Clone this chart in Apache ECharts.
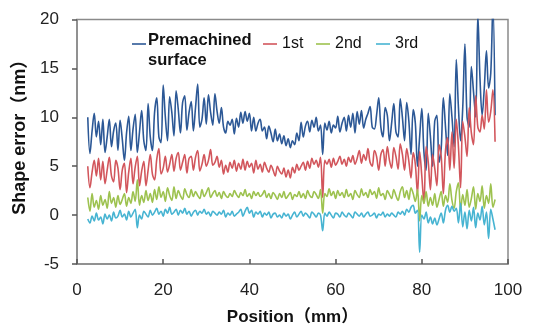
<!DOCTYPE html>
<html>
<head>
<meta charset="utf-8">
<style>html,body{margin:0;padding:0;background:#fff;}#chart{width:547px;height:331px;}</style>
<script src="https://cdn.jsdelivr.net/npm/echarts@6/dist/echarts.min.js"></script>
</head>
<body>
<div id="chart"></div>
<script>
// Sampling grid of the profiles (mm)
const xStart = 2.5;
const xStep = 0.5;

const seriesNames = ['Premachined surface', '1st', '2nd', '3rd'];
const xTicks = [0, 20, 40, 60, 80, 100];
const yTicks = [-5, 0, 5, 10, 15, 20];

// Shape error (nm), one value per sample from 2.5 mm to 97 mm
const premachined = [
  10.0, 6.3, 8.6, 10.4, 8.0, 9.6, 7.2, 9.8, 6.4, 8.0,
  9.8, 7.0, 8.6, 9.4, 6.6, 9.7, 7.8, 5.6, 8.4, 10.1,
  6.6, 8.8, 10.3, 6.4, 8.5, 10.7, 7.6, 6.6, 11.4, 8.0,
  6.6, 10.5, 12.0, 8.0, 7.4, 13.3, 10.0, 7.6, 12.1, 10.5,
  8.1, 12.7, 10.8, 8.4, 11.5, 12.2, 8.7, 10.5, 11.6, 8.6,
  11.0, 13.4, 9.0, 9.8, 12.0, 9.3, 12.3, 10.5, 9.2, 12.4,
  10.6, 9.4, 11.0, 9.0, 8.4, 9.6, 9.2, 9.8, 8.3, 9.9,
  9.0, 10.5, 9.4, 10.6, 9.6, 10.4, 8.6, 10.0, 8.6, 9.4,
  9.8, 8.6, 9.0, 7.8, 9.1, 8.4, 7.5, 8.8, 7.6, 8.3,
  7.3, 8.1, 7.1, 7.8, 6.9, 7.6, 7.2, 8.4, 7.6, 9.5,
  8.0, 9.1, 9.6, 8.5, 9.7, 9.0, 10.0, 8.6, 9.2, 6.2,
  9.4, 8.7, 9.6, 8.4, 9.2, 8.9, 10.1, 8.5, 9.4, 10.0,
  8.6, 10.2, 9.0, 10.4, 8.4, 10.6, 9.3, 10.7, 8.9, 9.8,
  10.4, 11.1, 9.0, 8.8, 10.2, 12.0, 9.0, 8.0, 11.0, 10.2,
  7.6, 9.4, 11.4, 8.5, 8.0, 11.9, 10.0, 7.6, 11.5, 9.6,
  6.2, 10.8, 9.4, 5.0, 8.0, 10.9, 6.4, 4.6, 10.4, 8.0,
  5.0, 9.6, 10.2, 5.4, 6.8, 12.0, 9.0, 6.1, 12.4, 10.0,
  7.0, 15.9, 11.0, 7.6, 11.0, 17.5, 10.0, 9.0, 15.2, 12.6,
  10.0, 20.5, 14.0, 10.2, 13.0, 16.8, 13.0, 14.5, 21.5, 10.2
];
const first = [
  5.0, 2.8, 4.4, 5.6, 4.0, 5.8, 3.6, 5.5, 3.2, 4.6,
  5.9, 4.0, 3.4, 5.6, 4.8, 2.6, 4.6, 5.3, 2.3, 4.4,
  5.8, 3.2, 4.9, 6.0, 3.0, 4.5, 5.5, 3.0, 4.6, 6.2,
  4.2, 3.6, 5.7, 6.8, 4.2, 4.8, 6.0, 4.4, 5.2, 6.2,
  4.5, 5.8, 6.4, 4.6, 5.4, 6.2, 4.3, 5.8, 6.0, 4.6,
  5.9, 6.6, 4.5, 5.2, 6.2, 5.0, 5.6, 6.7, 5.1, 5.4,
  6.0, 4.9, 5.6, 4.2, 5.1, 4.4, 5.4, 4.8, 5.6, 4.5,
  5.3, 4.7, 5.7, 4.6, 5.5, 4.9, 5.3, 4.3, 5.6, 4.7,
  5.2, 4.4, 5.4, 4.8, 4.4, 5.1, 4.6, 4.0, 5.0, 4.5,
  4.2, 4.8, 3.9, 4.6, 3.8, 4.9, 4.3, 5.2, 4.6, 5.0,
  5.4, 4.6, 5.5, 4.8, 5.8, 5.2, 5.6, 4.9, 5.9, 1.8,
  5.6, 5.2, 5.7, 4.9, 5.8, 5.1, 5.5, 6.0, 5.2, 5.7,
  5.0, 5.9, 5.4, 6.1, 5.2, 5.8, 6.6, 5.3, 6.2, 5.6,
  6.8, 5.4, 5.0, 6.6, 6.0, 4.6, 6.2, 6.7, 5.0, 7.0,
  5.6, 4.8, 6.9, 6.0, 4.7, 7.3, 6.2, 4.6, 6.8, 5.5,
  3.8, 6.4, 5.2, 2.2, 6.5, 4.0, 1.2, 7.0, 5.4, 2.6,
  6.2, 4.8, 3.0, 7.2, 6.0, 2.2, 6.6, 7.9, 4.6, 8.5,
  4.8, 9.8, 7.0, 2.8, 9.6, 8.0, 6.0, 11.0, 8.4, 7.2,
  12.2, 9.0, 8.5, 10.2, 8.8, 12.8, 9.5, 10.6, 12.8, 7.5
];
const second = [
  1.8, 0.4, 2.2, 0.8, 1.5, 0.6, 2.0, 1.0, 1.6, 0.7,
  2.4, 1.2, 1.8, 0.8, 2.0, 1.1, 1.6, 2.2, 0.9, 1.8,
  1.2, 2.4, 1.4, 3.6, 1.0, 2.0, 1.3, 2.5, 1.5, 2.2,
  1.3, 2.6, 1.6, 2.9, 1.8, 2.4, 1.4, 2.8, 2.0, 1.5,
  2.9, 1.7, 2.5, 2.0, 1.6, 2.7, 2.1, 1.8, 2.6, 1.9,
  2.4, 2.0, 1.7, 2.6, 1.9, 2.3, 2.8, 1.8, 2.2, 2.5,
  1.9, 2.3, 1.7, 2.4, 2.0, 1.8, 2.2, 1.9, 2.5, 2.1,
  1.8, 2.3, 2.0, 2.6, 1.9, 2.2, 1.7, 2.4, 2.0, 2.3,
  1.9, 2.1, 2.5, 1.8, 2.2, 1.7, 2.3, 2.0, 1.6, 2.2,
  1.8, 2.4, 1.7, 2.0, 2.3, 1.6, 2.1, 1.9, 2.4, 1.8,
  2.2, 1.7, 2.5, 2.0, 1.8, 2.4, 2.1, 1.7, 2.6, 0.2,
  2.2, 1.9, 2.7, 2.0, 2.4, 1.7, 2.5, 2.0, 2.3, 1.8,
  2.6, 1.9, 2.2, 1.6, 2.5, 2.1, 1.8, 2.7, 2.0, 2.3,
  1.8, 2.6, 2.1, 2.4, 1.7, 2.8, 2.0, 2.2, 1.6, 2.5,
  2.1, 1.7, 2.6, 2.0, 1.5, 2.4, 2.9, 1.8, 2.5, 1.6,
  2.8, 2.2, 1.4, 2.6, -0.6, 2.0, 1.2, 2.4, 0.9, 1.8,
  1.0, 2.2, 0.8, 1.6, 2.4, 0.9, 2.0, 1.3, 3.2, 1.5,
  0.7, 2.4, 3.3, 0.5, 2.1, 1.0, 2.6, 0.8, 1.7, 2.9,
  0.6, 2.2, 1.4, 3.0, 0.7, 2.0, 1.2, 3.2, 0.8, 1.6
];
const third = [
  -0.4, -0.8, -0.1, -0.6, 0.2, -0.5, -0.2, -0.9, 0.1, -0.4,
  0.0, -0.6, 0.3, -0.3, -0.1, 0.5, -0.2, 0.1, -0.5, 0.4,
  -0.2, 0.2, 0.6, -1.3, 0.0, -0.4, 0.4, 0.1, -0.2, 0.5,
  0.0, 0.3, 0.7, 0.1, 0.4, -0.1, 0.6, 0.2, 0.8, 0.1,
  0.3, 0.6, 0.0, 0.5, 0.2, 0.7, 0.1, 0.4, -0.1, 0.3,
  0.5, 0.0, 0.4, 0.2, 0.6, 0.1, 0.3, -0.1, 0.4, 0.2,
  0.0, 0.3, 0.1, 0.5, -0.2, 0.2, 0.0, 0.4, -0.1, 0.1,
  0.3, 0.6, -0.1, 0.4, 0.8, 0.2, 0.5, -0.2, 0.3, 0.1,
  0.4, -0.2, 0.2, 0.0, 0.3, -0.3, 0.1, 0.2, -0.2, 0.0,
  -0.3, 0.2, -0.1, 0.1, -0.4, 0.0, 0.3, -0.2, 0.1, 0.4,
  -0.1, 0.2, 0.0, -0.3, 0.3, 0.1, -0.2, 0.2, 0.0, -1.6,
  0.2, -0.1, 0.3, 0.0, -0.3, 0.2, 0.1, -0.2, 0.3, 0.0,
  -0.2, 0.2, 0.0, -0.3, 0.3, 0.1, -0.1, 0.2, -0.2, 0.1,
  0.3, -0.1, 0.0, 0.2, -0.3, 0.1, 0.0, 0.3, -0.2, 0.1,
  -0.1, 0.2, 0.0, -0.2, 0.3, 0.1, 0.4, 0.0, 0.6, 0.3,
  0.8, 1.0, 0.2, 0.5, -3.8, 0.0, -0.4, 0.3, -0.8, -0.2,
  -0.9, -0.3, -1.0, -0.4, 0.2, -0.8, 0.5, 1.0, 0.3, 0.9,
  0.4, 0.7, -0.8, 1.2, -1.2, 0.3, -1.4, 0.5, -0.6, 0.8,
  -1.3, 0.2, -0.5, 0.9, -1.0, 0.3, -2.4, 0.6, -0.4, -1.5
];

const colors = ['#2c5896', '#d2565c', '#9dc24f', '#47b4d2'];
const valueSets = [premachined, first, second, third];

function toPairs(arr) {
  return arr.map((v, i) => [xStart + i * xStep, v]);
}

const chart = echarts.init(document.getElementById('chart'), null, {renderer: 'canvas'});
const axisGray = '#8a8a8a';
const labelFont = {fontFamily: 'Liberation Sans, Arial, sans-serif', fontSize: 17, color: '#222'};

function legendFor(name, left, extra) {
  return Object.assign({
    data: [name],
    left: left,
    top: 34,
    padding: 0,
    orient: 'horizontal',
    selectedMode: false,
    icon: 'rect',
    itemWidth: 14,
    itemHeight: 1.6,
    textStyle: {fontFamily: 'Liberation Sans, Arial, sans-serif', fontSize: 16, color: '#111', lineHeight: 20},
  }, extra || {});
}

const option = {
  backgroundColor: '#fff',
  animation: false,
  color: colors,
  grid: {left: 77, right: 39, top: 19.5, bottom: 63, show: true, borderColor: axisGray, borderWidth: 1.5, backgroundColor: 'transparent'},
  legend: [
    legendFor(seriesNames[0], 132, {
      top: 18,
      formatter: function () { return '{b|Premachined}\n{b|surface}'; },
      textStyle: {
        fontFamily: 'Liberation Sans, Arial, sans-serif', fontSize: 16, color: '#111', lineHeight: 20,
        padding: [12, 0, 0, -3],
        rich: {b: {fontFamily: 'Liberation Sans, Arial, sans-serif', fontSize: 16.5, fontWeight: 'bold', color: '#111', lineHeight: 20}}
      }
    }),
    legendFor(seriesNames[1], 263),
    legendFor(seriesNames[2], 316),
    legendFor(seriesNames[3], 376)
  ],
  xAxis: {
    type: 'value',
    min: xTicks[0], max: xTicks[xTicks.length - 1], interval: xTicks[1] - xTicks[0],
    name: 'Position（mm）',
    nameLocation: 'middle',
    nameGap: 45,
    nameTextStyle: {fontFamily: 'Liberation Sans, Noto Sans CJK JP, sans-serif', fontSize: 17, fontWeight: 'bold', color: '#111'},
    axisLine: {show: true, onZero: false, lineStyle: {color: axisGray, width: 1.5}},
    axisTick: {show: true, inside: true, length: 5, lineStyle: {color: '#555', width: 1.5}},
    axisLabel: Object.assign({margin: 18}, labelFont),
    splitLine: {show: false}
  },
  yAxis: {
    type: 'value',
    min: yTicks[0], max: yTicks[yTicks.length - 1], interval: yTicks[1] - yTicks[0],
    name: 'Shape error（nm）',
    nameLocation: 'middle',
    nameGap: 48,
    nameTextStyle: {fontFamily: 'Liberation Sans, Noto Sans CJK JP, sans-serif', fontSize: 18, fontWeight: 'bold', color: '#111', padding: [0, 0, 0, 18]},
    axisLine: {show: true, onZero: false, lineStyle: {color: axisGray, width: 1.5}},
    axisTick: {show: true, inside: false, length: 5, lineStyle: {color: '#555', width: 1.5}},
    axisLabel: Object.assign({margin: 18}, labelFont),
    splitLine: {show: false}
  },
  series: seriesNames.map((name, k) => ({
    name: name,
    type: 'line',
    data: toPairs(valueSets[k]),
    showSymbol: false,
    symbol: 'none',
    smooth: 0.35,
    clip: true,
    lineStyle: {color: colors[k], width: 1.6},
    itemStyle: {color: colors[k]},
    z: 2 + k
  }))
};
chart.setOption(option);
</script>
</body>
</html>
